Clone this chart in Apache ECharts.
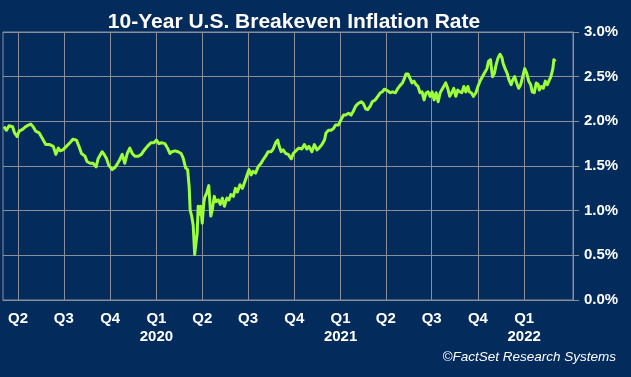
<!DOCTYPE html>
<html>
<head>
<meta charset="utf-8">
<script src="https://cdn.jsdelivr.net/npm/echarts@6/dist/echarts.min.js"></script>
<style>
  html, body { margin: 0; padding: 0; background: #032b5c; }
  #chart { width: 631px; height: 377px; }
</style>
</head>
<body>
<div id="chart"></div>
<script>
// ---- data ----
var titleText = '10-Year U.S. Breakeven Inflation Rate';
var sourceText = '\u00A9FactSet Research Systems';

var dates = [
  '2019-03-04','2019-03-09','2019-03-14','2019-03-21','2019-03-25','2019-03-30','2019-04-03','2019-04-10','2019-04-16','2019-04-26',
  '2019-05-01','2019-05-06','2019-05-13','2019-05-19','2019-05-26','2019-06-03','2019-06-10','2019-06-15','2019-06-20','2019-06-24',
  '2019-06-29','2019-07-06','2019-07-13','2019-07-19','2019-07-26','2019-07-31','2019-08-05','2019-08-12','2019-08-16','2019-08-22',
  '2019-08-28','2019-09-03','2019-09-07','2019-09-10','2019-09-15','2019-09-19','2019-09-24','2019-09-28','2019-10-05','2019-10-10',
  '2019-10-16','2019-10-20','2019-10-25','2019-10-30','2019-11-04','2019-11-09','2019-11-14','2019-11-19','2019-11-26','2019-12-02',
  '2019-12-08','2019-12-14','2019-12-21','2019-12-27','2020-01-01','2020-01-06','2020-01-11','2020-01-18','2020-01-23','2020-01-28',
  '2020-02-01','2020-02-07','2020-02-13','2020-02-19','2020-02-23','2020-02-28','2020-03-03','2020-03-06','2020-03-08','2020-03-11',
  '2020-03-14','2020-03-17','2020-03-19','2020-03-22','2020-03-24','2020-03-27','2020-03-29','2020-04-01','2020-04-04','2020-04-06',
  '2020-04-10','2020-04-14','2020-04-18','2020-04-21','2020-04-25','2020-04-28','2020-05-03','2020-05-07','2020-05-11','2020-05-15',
  '2020-05-20','2020-05-24','2020-05-28','2020-06-02','2020-06-06','2020-06-10','2020-06-15','2020-06-20','2020-06-25','2020-06-28',
  '2020-07-03','2020-07-07','2020-07-11','2020-07-16','2020-07-21','2020-07-27','2020-07-31','2020-08-05','2020-08-10','2020-08-16',
  '2020-08-20','2020-08-25','2020-08-29','2020-09-01','2020-09-05','2020-09-09','2020-09-14','2020-09-19','2020-09-25','2020-09-29',
  '2020-10-06','2020-10-10','2020-10-16','2020-10-21','2020-10-26','2020-10-30','2020-11-05','2020-11-10','2020-11-15','2020-11-19',
  '2020-11-25','2020-11-30','2020-12-03','2020-12-08','2020-12-13','2020-12-18','2020-12-22','2020-12-28','2021-01-02','2021-01-07',
  '2021-01-11','2021-01-17','2021-01-22','2021-01-26','2021-01-31','2021-02-05','2021-02-11','2021-02-15','2021-02-20','2021-02-24',
  '2021-03-01','2021-03-05','2021-03-11','2021-03-16','2021-03-21','2021-03-25','2021-03-29','2021-04-05','2021-04-10','2021-04-14',
  '2021-04-20','2021-04-25','2021-04-29','2021-05-04','2021-05-08','2021-05-11','2021-05-15','2021-05-19','2021-05-23','2021-05-27',
  '2021-05-31','2021-06-04','2021-06-08','2021-06-12','2021-06-16','2021-06-20','2021-06-24','2021-06-28','2021-07-02','2021-07-06',
  '2021-07-10','2021-07-14','2021-07-18','2021-07-21','2021-07-25','2021-07-29','2021-08-02','2021-08-06','2021-08-10','2021-08-14',
  '2021-08-18','2021-08-22','2021-08-26','2021-08-30','2021-09-03','2021-09-07','2021-09-11','2021-09-14','2021-09-18','2021-09-22',
  '2021-09-27','2021-10-01','2021-10-06','2021-10-10','2021-10-14','2021-10-19','2021-10-22','2021-10-26','2021-10-28','2021-10-30',
  '2021-11-03','2021-11-06','2021-11-10','2021-11-14','2021-11-18','2021-11-20','2021-11-24','2021-11-28','2021-12-02','2021-12-06',
  '2021-12-09','2021-12-13','2021-12-17','2021-12-21','2021-12-25','2021-12-29','2022-01-02','2022-01-06','2022-01-10','2022-01-14',
  '2022-01-17','2022-01-21','2022-01-25','2022-01-29','2022-01-31','2022-02-04','2022-02-08','2022-02-12','2022-02-16','2022-02-19',
  '2022-02-23','2022-02-27','2022-03-01','2022-03-03','2022-03-04'
];

var values = [
  1.94,1.90,1.95,1.94,1.87,1.83,1.89,1.91,1.94,1.97,
  1.94,1.89,1.87,1.81,1.74,1.74,1.72,1.63,1.70,1.67,
  1.68,1.72,1.76,1.80,1.79,1.72,1.64,1.61,1.55,1.53,
  1.53,1.49,1.58,1.59,1.66,1.63,1.58,1.51,1.46,1.48,
  1.53,1.57,1.63,1.53,1.64,1.70,1.64,1.61,1.61,1.63,
  1.68,1.72,1.76,1.76,1.79,1.75,1.76,1.75,1.70,1.64,
  1.66,1.67,1.66,1.64,1.59,1.48,1.46,1.27,1.01,0.94,
  0.84,0.51,0.49,0.75,1.05,0.96,1.05,0.86,1.08,1.15,
  1.20,1.28,0.94,1.01,1.16,1.10,1.12,1.07,1.14,1.05,
  1.14,1.12,1.18,1.16,1.25,1.21,1.29,1.25,1.33,1.38,
  1.46,1.40,1.44,1.42,1.49,1.53,1.57,1.61,1.66,1.66,
  1.69,1.76,1.79,1.72,1.66,1.68,1.64,1.63,1.58,1.64,
  1.68,1.70,1.69,1.74,1.69,1.72,1.66,1.74,1.68,1.70,
  1.74,1.79,1.87,1.90,1.90,1.92,1.96,1.96,2.02,2.07,
  2.07,2.09,2.07,2.11,2.17,2.20,2.22,2.20,2.14,2.13,
  2.17,2.22,2.24,2.28,2.32,2.33,2.36,2.34,2.32,2.33,
  2.32,2.37,2.40,2.43,2.48,2.53,2.53,2.48,2.43,2.45,
  2.41,2.39,2.32,2.33,2.24,2.32,2.33,2.28,2.33,2.24,
  2.32,2.22,2.32,2.35,2.39,2.43,2.37,2.28,2.32,2.37,
  2.28,2.35,2.33,2.32,2.39,2.33,2.39,2.33,2.32,2.28,
  2.32,2.39,2.46,2.50,2.54,2.59,2.67,2.69,2.59,2.50,
  2.54,2.63,2.71,2.75,2.71,2.65,2.59,2.54,2.46,2.41,
  2.46,2.50,2.43,2.37,2.41,2.50,2.59,2.54,2.45,2.41,
  2.33,2.32,2.43,2.41,2.35,2.39,2.37,2.45,2.41,2.45,
  2.50,2.59,2.69,2.70,2.67
];

// quarter boundaries shown on the x axis
var quarterTicks = [
  '2019-04-01','2019-07-01','2019-10-01','2020-01-01','2020-04-01','2020-07-01',
  '2020-10-01','2021-01-01','2021-04-01','2021-07-01','2021-10-01','2022-01-01'
];
var xMin = '2019-03-02';
var xMax = '2022-04-08';

var yMin = 0, yMax = 3, yStep = 0.5;

// ---- chart ----
function ts(s) { return Date.UTC(+s.slice(0, 4), +s.slice(5, 7) - 1, +s.slice(8, 10)); }

var FONT = '"Liberation Sans", Arial, Helvetica, sans-serif';
var GRID_COLOR = '#8a8f99';
var chart = echarts.init(document.getElementById('chart'), null, { renderer: 'canvas' });

var seriesData = dates.map(function (d, i) { return [ts(d), values[i]]; });
var tickValues = quarterTicks.map(ts);

chart.setOption({
  backgroundColor: '#032b5c',
  animation: false,
  title: [
    {
      text: titleText,
      left: 289,
      top: 7,
      textAlign: 'center',
      textStyle: { color: '#ffffff', fontSize: 21, fontWeight: 'bold', fontFamily: FONT }
    },
    {
      text: sourceText,
      right: 10,
      bottom: 8,
      textStyle: { color: '#ffffff', fontSize: 13.5, fontWeight: 'normal', fontStyle: 'italic', fontFamily: FONT }
    }
  ],
  grid: {
    left: 3, right: 58, top: 32, bottom: 77,
    show: true, borderColor: GRID_COLOR, borderWidth: 1, backgroundColor: 'transparent'
  },
  xAxis: {
    type: 'value',
    min: ts(xMin),
    max: ts(xMax),
    axisLine: { show: true, lineStyle: { color: GRID_COLOR, width: 1 } },
    axisTick: { show: false, customValues: tickValues },
    splitLine: { show: true, lineStyle: { color: GRID_COLOR, width: 1 } },
    axisLabel: {
      customValues: tickValues,
      color: '#ffffff',
      fontSize: 15,
      fontWeight: 'bold',
      fontFamily: FONT,
      lineHeight: 18,
      margin: 10,
      hideOverlap: false,
      showMinLabel: true,
      showMaxLabel: true,
      formatter: function (val) {
        var d = new Date(val);
        var q = Math.floor(d.getUTCMonth() / 3) + 1;
        return q === 1 ? 'Q1\n' + d.getUTCFullYear() : 'Q' + q;
      }
    }
  },
  yAxis: {
    type: 'value',
    position: 'right',
    min: yMin,
    max: yMax,
    interval: yStep,
    axisLine: { show: true, lineStyle: { color: GRID_COLOR, width: 1 } },
    axisTick: { show: true, length: 6, inside: false, lineStyle: { color: GRID_COLOR } },
    splitLine: { show: true, lineStyle: { color: GRID_COLOR, width: 1 } },
    axisLabel: {
      color: '#ffffff',
      fontSize: 15,
      fontWeight: 'bold',
      fontFamily: FONT,
      margin: 11,
      formatter: function (v) { return v.toFixed(1) + '%'; }
    }
  },
  series: [{
    type: 'line',
    data: seriesData,
    showSymbol: false,
    symbol: 'none',
    smooth: false,
    lineStyle: { color: '#9cff3a', width: 3, join: 'round' },
    itemStyle: { color: '#9cff3a' }
  }]
});
</script>
</body>
</html>
